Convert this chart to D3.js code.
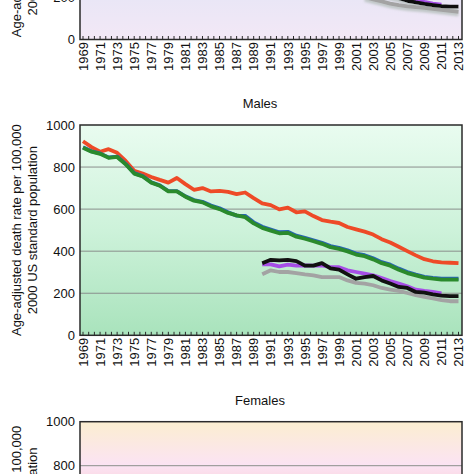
<!DOCTYPE html>
<html><head><meta charset="utf-8">
<script src="https://cdn.jsdelivr.net/npm/d3@7"></script>
<style>
html,body{margin:0;padding:0;background:#fff;}
svg{display:block;font-family:"Liberation Sans",Arial,sans-serif;}
</style>
</head><body>
<svg id="c" width="474" height="474"></svg>
<script>
// ---------- data ----------
const years = [1969,1970,1971,1972,1973,1974,1975,1976,1977,1978,1979,1980,1981,1982,1983,1984,1985,1986,1987,1988,1989,1990,1991,1992,1993,1994,1995,1996,1997,1998,1999,2000,2001,2002,2003,2004,2005,2006,2007,2008,2009,2010,2011,2012,2013];
const yearLabels = ["1969","1971","1973","1975","1977","1979","1981","1983","1985","1987","1989","1991","1993","1995","1997","1999","2001","2003","2005","2007","2009","2011","2013"];
const yTicks = [0,200,400,600,800,1000];

// Males panel
const maleRed = [923,895,873,885,868,829,782,769,753,739,726,748,719,692,700,684,687,682,671,679,652,627,619,599,607,585,589,567,548,540,534,515,504,493,479,457,441,421,400,380,362,352,347,345,343];
const maleBlue = [894,875,865,846,850,815,771,757,728,713,686,686,661,643,635,617,604,585,569,568,537,516,503,490,492,474,464,452,440,424,416,404,389,381,366,348,336,317,301,289,278,273,269,269,269];
const maleGreen = [892,873,863,844,848,813,769,755,726,711,684,684,659,640,632,613,600,582,570,562,532,511,498,485,487,469,459,447,435,419,411,399,384,376,361,343,331,312,296,285,274,269,265,265,265];
const lateYears = [1990,1991,1992,1993,1994,1995,1996,1997,1998,1999,2000,2001,2002,2003,2004,2005,2006,2007,2008,2009,2010,2011,2012,2013];
const purpleYears = [1990,1991,1992,1993,1994,1995,1996,1997,1998,1999,2000,2001,2002,2003,2004,2005,2006,2007,2008,2009,2010,2011];
const maleBlack = [343,359,356,359,353,331,331,343,318,312,290,269,277,282,261,246,230,225,206,203,195,189,186,186];
const malePurple = [337,337,328,336,331,332,331,332,324,324,309,301,293,285,272,258,246,233,217,211,206,199];
const maleGray = [290,309,301,301,296,290,285,277,277,277,261,249,246,238,225,217,211,201,191,183,175,167,162,162];

// Top (cropped) panel – only the visible tail end
const topGrayYears = [2002,2003,2004,2005,2006,2007,2008,2009,2010,2011,2012,2013];
const topGray = [200,190,180,170,163,157,153,150,145,140,135,131];
const topBlackYears = [2004,2005,2006,2007,2008,2009,2010,2011,2012,2013];
const topBlack = [215,205,195,183,175,168,163,158,155,155];
const topPurpleYears = [2006,2007,2008,2009,2010,2011];
const topPurple = [212,200,188,178,170,165];

// ---------- drawing ----------
const svg = d3.select("#c");
const H = 474;
const L = 80, R = 462;
const x = d3.scaleLinear().domain([1969, 2013]).range([83, 458.5]);
const tickPos = d3.range(0, 67).map(k => 1969 + k * 2 / 3);

const defs = svg.append("defs");
function grad(id, stops) {
  const g = defs.append("linearGradient").attr("id", id).attr("x1", 0).attr("y1", 0).attr("x2", 0).attr("y2", 1);
  stops.forEach(s => g.append("stop").attr("offset", s[0]).attr("stop-color", s[1]));
}
grad("gTop", [[0, "#dde0f4"], [0.8, "#e9e6f6"], [1, "#f3e8f6"]]);
grad("gMale", [[0, "#e9fcf0"], [0.5, "#cdf2da"], [1, "#a9e3bc"]]);
grad("gFemale", [[0, "#fbeed0"], [0.2, "#fbe3f4"], [0.25, "#fbdbe6"], [1, "#f6c9cf"]]);

const sh = defs.append("filter").attr("id", "shadow").attr("x", "-5%").attr("y", "-20%").attr("width", "110%").attr("height", "160%");
sh.append("feDropShadow").attr("dx", 0).attr("dy", 2.5).attr("stdDeviation", 0.8).attr("flood-color", "#b9c2c0").attr("flood-opacity", 0.9);

const panels = [
  { top: 39.5 - 211.5, bottom: 39.5, fill: "url(#gTop)", labelShift: -2.5, showX: true,
    series: [
      { xs: topGrayYears, ys: topGray, color: "#a3a3a3" },
      { xs: topPurpleYears, ys: topPurple, color: "#a64ee6" },
      { xs: topBlackYears, ys: topBlack, color: "#111111" }
    ], shadow: true },
  { title: "Males", titleY: 107.5, top: 125, bottom: 335.3, fill: "url(#gMale)", labelShift: 0, showX: true,
    series: [
      { xs: years, ys: maleRed, color: "#ee4a27" },
      { xs: years, ys: maleBlue, color: "#2863b8" },
      { xs: years, ys: maleGreen, color: "#2a8a2c" },
      { xs: lateYears, ys: maleGray, color: "#a3a3a3" },
      { xs: purpleYears, ys: malePurple, color: "#a64ee6" },
      { xs: lateYears, ys: maleBlack, color: "#111111" }
    ] },
  { title: "Females", titleY: 404.5, top: 421.7, bottom: 641.7, fill: "url(#gFemale)", labelShift: 0, showX: false, series: [] }
];

panels.forEach(p => {
  const y = d3.scaleLinear().domain([0, 1000]).range([p.bottom, p.top]);
  const g = svg.append("g");
  g.append("rect").attr("x", L).attr("y", p.top).attr("width", R - L).attr("height", p.bottom - p.top).attr("fill", p.fill);
  // grid
  g.selectAll("line.grid").data(yTicks.filter(v => v > 0 && v < 1000)).join("line")
    .attr("x1", L).attr("x2", R).attr("y1", d => y(d)).attr("y2", d => y(d))
    .attr("stroke", "#8a8f8c").attr("stroke-width", 1);
  // series
  const line = d3.line().x(d => x(d[0])).y(d => y(d[1]));
  const sg = g.append("g");
  if (p.shadow) sg.attr("filter", "url(#shadow)");
  p.series.forEach(s => {
    sg.append("path").datum(s.xs.map((yr, i) => [yr, s.ys[i]]))
      .attr("d", line).attr("fill", "none").attr("stroke", s.color)
      .attr("stroke-width", 3.8).attr("stroke-linejoin", "round").attr("stroke-linecap", "butt");
  });
  // frame
  g.append("rect").attr("x", L).attr("y", p.top).attr("width", R - L).attr("height", p.bottom - p.top)
    .attr("fill", "none").attr("stroke", "#2a2a2a").attr("stroke-width", 1.5);
  // y tick labels (only those that fall inside the picture)
  g.selectAll("text.yt").data(yTicks.filter(v => y(v) > -8 && y(v) < H + 8)).join("text")
    .attr("x", 75).attr("y", d => y(d)).attr("dy", "0.36em")
    .attr("text-anchor", "end").attr("font-size", 13).attr("fill", "#111").text(d => d);
  // y title
  const cy = (p.top + p.bottom) / 2 + p.labelShift;
  const yl = g.append("g").attr("font-size", 13).attr("fill", "#111").attr("text-anchor", "middle");
  yl.append("text").attr("transform", `translate(21,${cy}) rotate(-90)`).text("Age-adjusted death rate per 100,000");
  yl.append("text").attr("transform", `translate(36.5,${cy}) rotate(-90)`).text("2000 US standard population");
  // x axis
  if (p.showX) {
    g.selectAll("line.xt").data(tickPos).join("line")
      .attr("x1", d => x(d)).attr("x2", d => x(d)).attr("y1", p.bottom).attr("y2", p.bottom - 3.5)
      .attr("stroke", "#2a2a2a").attr("stroke-width", 1);
    g.selectAll("text.xl").data(yearLabels).join("text")
      .attr("transform", d => `translate(${x(+d)},${p.bottom + 2.5}) rotate(-90)`)
      .attr("dy", "0.36em").attr("text-anchor", "end").attr("font-size", 13).attr("fill", "#111").text(d => d);
  }
  if (p.title) {
    g.append("text").attr("x", 260).attr("y", p.titleY).attr("text-anchor", "middle")
      .attr("font-size", 13).attr("fill", "#111").text(p.title);
  }
});
</script>
</body></html>
